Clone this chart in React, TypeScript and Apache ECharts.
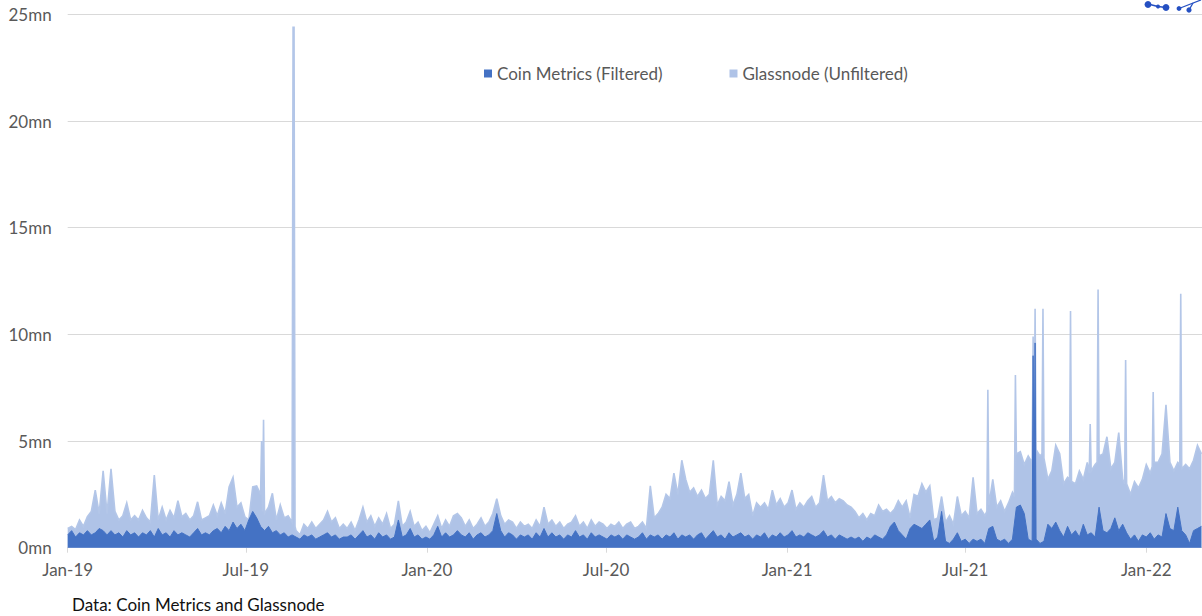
import React, { useEffect, useRef } from "react";
import * as echarts from "echarts";

// Daily active addresses (millions), sampled every 4 days from 1 Jan 2019 (day 0)
const SAMPLE_STEP_DAYS = 4;

const glassnodeValues: number[] = [
  0.9, 1.0, 0.85, 1.3, 1.0, 1.45, 1.7, 2.7, 1.6, 3.6,
  1.6, 3.7, 1.7, 1.3, 1.5, 2.1, 1.3, 1.5, 1.3, 1.75,
  1.4, 1.2, 3.4, 1.3, 1.9, 1.3, 1.75, 1.4, 2.2, 1.45,
  1.6, 1.3, 1.5, 2.15, 1.3, 1.4, 1.5, 2.0, 1.5, 2.1,
  1.6, 2.85, 3.3, 1.9, 2.1, 1.45, 1.3, 2.85, 2.9, 2.5,
  1.6, 1.9, 2.55, 1.3, 2.0, 1.4, 1.5, 1.2, 0.8, 0.6,
  1.1, 0.9, 1.2, 0.9, 1.1, 1.3, 1.7, 1.2, 1.4, 0.9,
  1.1, 0.9, 1.2, 0.8, 1.3, 1.9, 1.2, 1.5, 1.0, 1.4,
  1.1, 1.6, 0.9, 1.1, 2.2, 1.0, 1.2, 1.7, 1.0, 1.2,
  0.8, 1.0, 0.7, 1.1, 1.5, 0.9, 1.3, 1.0, 1.5, 1.6,
  1.4, 1.0, 1.3, 0.9, 1.1, 1.4, 1.0, 1.2, 1.6, 2.3,
  1.5, 1.1, 1.3, 1.2, 0.9, 1.2, 1.0, 1.1, 0.9, 1.3,
  1.0, 1.9, 1.1, 1.3, 1.0, 1.2, 0.9, 1.1, 1.2, 1.5,
  1.0, 1.2, 0.9, 1.3, 1.0, 1.2, 1.1, 0.9, 1.1, 1.0,
  1.2, 0.9, 1.1, 1.2, 0.9, 1.0, 1.2, 0.9, 2.9, 1.4,
  1.6, 1.9, 2.5, 2.3, 3.5, 2.5, 4.1, 3.2, 2.6, 2.8,
  2.4, 2.7, 2.3, 2.5, 4.1, 2.0, 2.4, 2.2, 3.1, 2.0,
  2.5, 3.5, 2.3, 2.5, 1.5, 2.1, 1.9, 2.1, 1.8, 2.7,
  2.0, 2.3, 1.9, 2.1, 2.7, 1.8, 2.1, 1.9, 2.2, 2.4,
  1.9, 2.1, 3.4, 2.2, 2.4, 2.1, 2.3, 2.2, 2.0, 1.9,
  1.7, 1.4, 1.6, 1.3, 1.6, 1.5, 2.0, 1.7, 1.8, 1.6,
  1.8, 2.2, 1.9, 2.2, 1.4, 2.5, 2.4, 3.0, 2.6, 2.9,
  1.3, 1.4, 2.4, 1.2, 1.5, 1.1, 2.4, 1.5, 1.7, 1.4,
  3.3, 1.6, 1.8, 1.5, 2.0, 3.2, 1.9, 2.2, 1.7, 2.1,
  2.6, 4.4, 4.5, 3.9, 4.3, 4.0, 4.6, 4.3, 4.2, 3.2,
  3.6, 4.8, 4.4, 3.0, 3.3, 3.1, 3.0, 3.6, 3.2, 4.0,
  3.6, 3.9, 4.3, 4.4, 5.2, 3.7, 4.0, 5.4, 3.2, 3.0,
  2.5, 3.1, 2.8, 3.2, 3.9, 3.5, 4.0, 4.0, 4.4, 6.7,
  4.0, 3.6, 4.0, 3.7, 3.9, 3.7, 4.1, 4.8, 4.4,
];

const coinMetricsValues: number[] = [
  0.6, 0.8, 0.5, 0.7, 0.6, 0.8, 0.6, 0.7, 0.9, 0.8,
  0.6, 0.8, 0.6, 0.7, 0.5, 0.8, 0.6, 0.7, 0.5, 0.7,
  0.6, 0.8, 0.5, 0.9, 0.6, 0.7, 0.5, 0.8, 0.6, 0.7,
  0.6, 0.5, 0.7, 0.9, 0.6, 0.7, 0.6, 0.8, 0.9, 0.7,
  1.0, 0.8, 1.2, 0.9, 1.1, 0.8, 1.3, 1.7, 1.4, 1.0,
  0.8, 1.0, 0.7, 0.8, 0.6, 0.7, 0.5, 0.6, 0.5, 0.4,
  0.6, 0.5, 0.6, 0.4, 0.5, 0.6, 0.7, 0.5, 0.6, 0.4,
  0.5, 0.5, 0.6, 0.4, 0.6, 0.8, 0.5, 0.6, 0.4, 0.7,
  0.5, 0.6, 0.4, 0.5, 1.3, 0.5, 0.6, 0.9, 0.5, 0.6,
  0.4, 0.5, 0.4, 0.6, 1.0, 0.5, 0.7, 0.5, 0.6, 0.8,
  0.6, 0.5, 0.7, 0.4, 0.6, 0.7, 0.5, 0.6, 0.8, 1.6,
  0.8, 0.5, 0.7, 0.6, 0.4, 0.6, 0.5, 0.6, 0.4, 0.7,
  0.5, 0.9, 0.5, 0.7, 0.5, 0.6, 0.4, 0.6, 0.5, 0.8,
  0.5, 0.6, 0.4, 0.7, 0.5, 0.6, 0.5, 0.4, 0.6, 0.5,
  0.6, 0.4, 0.6, 0.5, 0.4, 0.5, 0.7, 0.4, 0.6, 0.5,
  0.6, 0.4, 0.6, 0.5, 0.7, 0.4, 0.6, 0.5, 0.6, 0.4,
  0.6, 0.7, 0.4, 0.6, 0.8, 0.5, 0.6, 0.4, 0.7, 0.5,
  0.6, 0.7, 0.5, 0.6, 0.4, 0.6, 0.5, 0.7, 0.4, 0.6,
  0.5, 0.7, 0.5, 0.6, 0.8, 0.5, 0.6, 0.5, 0.7, 0.6,
  0.5, 0.6, 0.8, 0.5, 0.6, 0.4, 0.6, 0.5, 0.4, 0.5,
  0.4, 0.5, 0.3, 0.5, 0.4, 0.6, 0.5, 0.4, 0.6, 1.0,
  1.2, 0.8, 0.6, 0.4, 0.9, 1.1, 1.0, 0.9, 1.1, 1.3,
  0.3, 0.5, 1.7, 0.3, 0.2, 0.4, 0.7, 0.3, 0.4, 0.2,
  0.4, 0.3, 0.4, 0.2, 0.9, 1.0, 0.4, 0.3, 0.4, 0.2,
  0.4, 1.9, 2.0, 1.6, 0.4, 0.3, 0.4, 0.2, 0.3, 1.1,
  0.9, 1.2, 0.8, 0.5, 1.0, 0.6, 0.8, 0.5, 1.1, 0.6,
  0.7, 0.5, 1.9, 0.8, 0.7, 0.9, 1.4, 0.8, 1.1, 0.7,
  0.4, 0.6, 0.3, 0.6, 0.5, 0.7, 0.4, 0.6, 0.5, 1.6,
  0.9, 0.8, 1.9, 0.8, 0.6, 0.2, 0.8, 0.9, 1.0,
];

// Single-day spikes between the regular samples: [day, value]
const glassnodeSpikes: [number, number][] = [
  [197, 5.0], [198, 1.7], [199, 6.0],
  [229, 24.4], [230, 24.4], [231, 1.0],
  [934, 1.7], [935, 7.4],
  [962, 2.4], [963, 8.1],
  [981, 9.9], [982, 4.5], [983, 11.2],
  [990, 4.4], [991, 11.2],
  [1018, 3.2], [1019, 11.1],
  [1038, 3.5], [1039, 5.8],
  [1046, 4.0], [1047, 12.1],
  [1074, 3.0], [1075, 8.8],
  [1102, 3.8], [1103, 7.3],
  [1130, 3.9], [1131, 11.9],
];

const coinMetricsSpikes: [number, number][] = [
  [981, 9.0], [982, 3.0], [983, 9.6],
];

const tickDays = [0, 181, 365, 547, 731, 912, 1096];
const tickLabels = ["Jan-19", "Jul-19", "Jan-20", "Jul-20", "Jan-21", "Jul-21", "Jan-22"];

const COIN_NAME = "Coin Metrics (Filtered)";
const GLASS_NAME = "Glassnode (Unfiltered)";

function toPoints(values: number[], spikes: [number, number][]) {
  const pts: [number, number][] = values.map((v, i) => [i * SAMPLE_STEP_DAYS, v]);
  return pts.concat(spikes).sort((a, b) => a[0] - b[0]);
}

export default function App() {
  const ref = useRef<HTMLDivElement>(null);
  useEffect(() => {
    if (!ref.current) return;
    const chart = echarts.init(ref.current, null, { renderer: "svg" });
    const font = "Lato";
    const logoColor = "#2550c2";
    chart.setOption({
      animation: false,
      backgroundColor: "#ffffff",
      textStyle: { fontFamily: font },
      grid: { left: 67.7, right: 0, top: 14.4, bottom: 68.3 },
      legend: {
        data: [COIN_NAME, GLASS_NAME],
        left: 479,
        top: 60,
        icon: "rect",
        itemWidth: 8,
        itemHeight: 8,
        itemGap: 67,
        textStyle: { fontSize: 17, color: "#595959", fontFamily: font },
      },
      xAxis: {
        type: "value",
        min: 0,
        max: 1152.6,
        splitLine: { show: false },
        axisLine: { show: true, lineStyle: { color: "#d9d9d9", width: 1 } },
        axisTick: {
          show: true,
          customValues: tickDays,
          length: 5,
          lineStyle: { color: "#d9d9d9" },
        },
        axisLabel: {
          customValues: tickDays,
          formatter: (v: number) => {
            const idx = tickDays.indexOf(Math.round(v));
            return idx >= 0 ? tickLabels[idx] : "";
          },
          color: "#595959",
          fontSize: 17,
          fontFamily: font,
          margin: 13,
        },
      },
      yAxis: {
        type: "value",
        min: 0,
        max: 25,
        interval: 5,
        axisLine: { show: false },
        axisTick: { show: false },
        splitLine: { lineStyle: { color: "#d9d9d9", width: 1 } },
        axisLabel: {
          formatter: (v: number) => `${v}mn`,
          color: "#595959",
          fontSize: 17,
          fontFamily: font,
          margin: 16,
        },
      },
      series: [
        {
          name: GLASS_NAME,
          type: "line",
          data: toPoints(glassnodeValues, glassnodeSpikes),
          symbol: "none",
          lineStyle: { width: 1.6, color: "#b3c6e8", join: "miter" },
          itemStyle: { color: "#afc3e7" },
          areaStyle: { color: "#afc3e7", opacity: 1 },
          z: 2,
        },
        {
          name: COIN_NAME,
          type: "line",
          data: toPoints(coinMetricsValues, coinMetricsSpikes),
          symbol: "none",
          lineStyle: { width: 1, color: "#4472c4" },
          itemStyle: { color: "#4472c4" },
          areaStyle: { color: "#4472c4", opacity: 1 },
          z: 3,
        },
      ],
      graphic: [
        {
          type: "text",
          left: 72,
          top: 596,
          style: { text: "Data: Coin Metrics and Glassnode", fontSize: 17, fontFamily: font, fill: "#111111" },
        },
        { type: "line", shape: { x1: 1148, y1: 4, x2: 1158, y2: 6.5 }, style: { stroke: logoColor, lineWidth: 1.3 } },
        { type: "line", shape: { x1: 1158, y1: 6.5, x2: 1166, y2: 7.5 }, style: { stroke: logoColor, lineWidth: 1.3 } },
        { type: "line", shape: { x1: 1179, y1: 8.5, x2: 1201, y2: 0 }, style: { stroke: logoColor, lineWidth: 1.3 } },
        { type: "line", shape: { x1: 1189, y1: 10, x2: 1193, y2: 3 }, style: { stroke: logoColor, lineWidth: 1.3 } },
        { type: "circle", shape: { cx: 1148, cy: 4.5, r: 3.4 }, style: { fill: logoColor } },
        { type: "circle", shape: { cx: 1158, cy: 6.5, r: 2 }, style: { fill: logoColor } },
        { type: "circle", shape: { cx: 1166, cy: 7.5, r: 3.4 }, style: { fill: logoColor } },
        { type: "circle", shape: { cx: 1179, cy: 8.5, r: 2.4 }, style: { fill: logoColor } },
        { type: "circle", shape: { cx: 1189, cy: 10, r: 2.6 }, style: { fill: logoColor } },
      ],
    });
    return () => chart.dispose();
  }, []);
  return (
    <div
      ref={ref}
      style={{ position: "fixed", left: 0, top: 0, width: 1202, height: 616, background: "#fff" }}
    />
  );
}
